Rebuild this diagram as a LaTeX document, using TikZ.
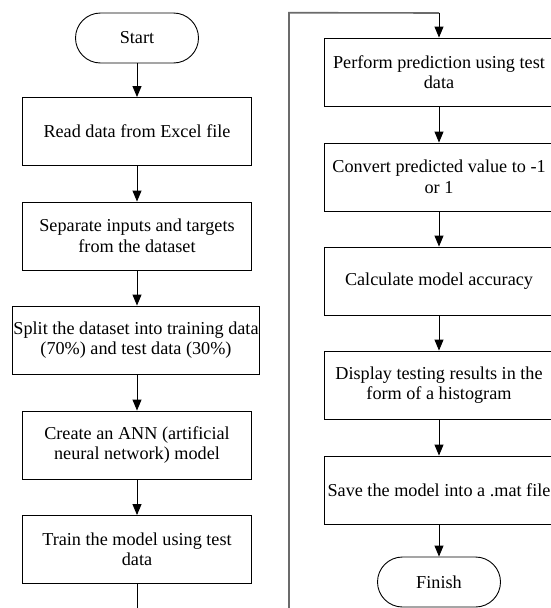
\documentclass[tikz,border=0pt]{standalone}
\usepackage{fontspec}
\setmainfont{Liberation Serif}
\usetikzlibrary{arrows.meta}
\begin{document}
\begin{tikzpicture}[x=1pt,y=-1pt,
  every node/.style={font=\fontsize{18.2}{20.5}\selectfont},
  box/.style={draw=black,line width=0.9pt,rectangle,minimum width=229pt,
    minimum height=68pt,align=center,inner sep=0pt},
  widebox/.style={box,minimum width=247pt},
  term/.style={draw=black,line width=0.9pt,rectangle,rounded corners=25pt,
    minimum width=123pt,minimum height=50pt,inner sep=0pt},
  flow/.style={line width=0.9pt,-{Triangle[length=11pt,width=9pt]}},
  link/.style={draw=black!58,line width=1.6pt}]
  \useasboundingbox[fill=white] (0,0) rectangle (551,608);

  % left column
  \node[term]     (start) at (137,38)    {Start};
  \node[box]      (read)  at (137,131.5) {Read data from Excel file};
  \node[box]      (sep)   at (137,236)   {Separate inputs and targets\\from the dataset};
  \node[widebox]  (split) at (136,340)   {Split the dataset into training data\\(70\%) and test data (30\%)};
  \node[box]      (ann)   at (137,445)   {Create an ANN (artificial\\neural network) model};
  \node[box]      (train) at (137,549.5) {Train the model using test\\data};

  % right column
  \node[box] (pred)  at (439,72)  {Perform prediction using test\\data};
  \node[box] (conv)  at (439,177) {Convert predicted value to -1\\or 1};
  \node[box] (acc)   at (439,281) {Calculate model accuracy};
  \node[box] (hist)  at (439,385) {Display testing results in the\\form of a histogram};
  \node[box] (save)  at (439,490) {Save the model into a .mat file};
  \node[term] (finish) at (439,582) {Finish};

  % connectors
  \draw[flow] (start) -- (read);
  \draw[flow] (read) -- (sep);
  \draw[flow] (sep) -- (read.south |- split.north);
  \draw[flow] (split.south -| read.south) -- (ann);
  \draw[flow] (ann) -- (train);

  \coordinate (down) at (137,608);
  \draw[line width=0.9pt] (train.south) -- (down);

  % column jump: up the middle, across the top, into the right column
  \coordinate (rise)  at (289,608);
  \coordinate (turn)  at (289,12.7);
  \coordinate (entry) at (439,13);
  \draw[link] (rise) -- (turn) -- (entry);
  \draw[flow] (entry) -- (pred.north);

  \draw[flow] (pred) -- (conv);
  \draw[flow] (conv) -- (acc);
  \draw[flow] (acc) -- (hist);
  \draw[flow] (hist) -- (save);
  \draw[flow] (save) -- (finish);
\end{tikzpicture}
\end{document}
